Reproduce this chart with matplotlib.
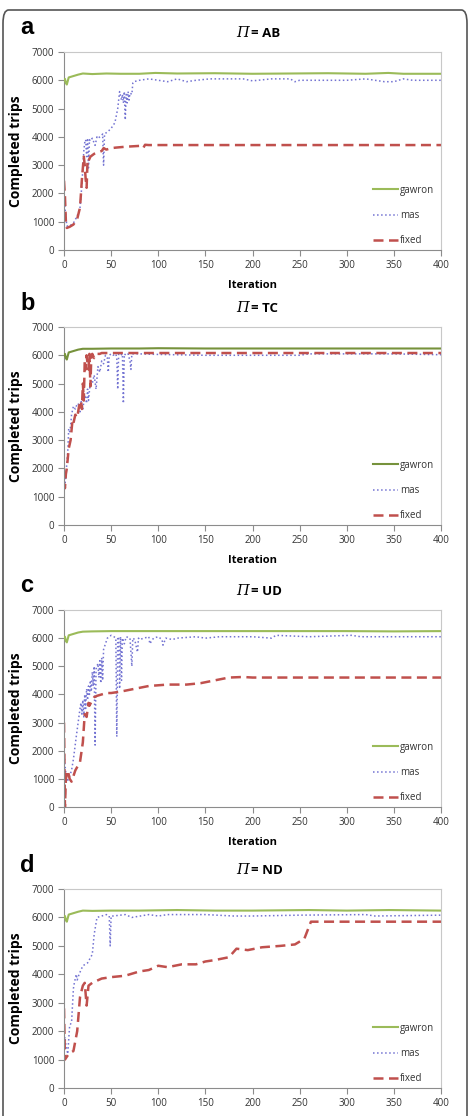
import matplotlib
matplotlib.use("Agg")
import matplotlib.pyplot as plt
from matplotlib.patches import FancyBboxPatch

# ---- data: (iteration, completed trips) ----
# panel a : PI = AB
ab_gawron_it = [0, 1, 2, 3, 5, 10, 15, 20, 30, 45, 60, 80, 97, 120, 160, 200, 240, 280, 320, 344, 360, 400]
ab_gawron_v = [6000, 6050, 5900, 5850, 6100, 6150, 6200, 6240, 6220, 6240, 6230, 6230, 6260, 6240, 6250, 6230, 6240, 6250, 6230, 6260, 6230, 6230]
ab_mas_it = [0, 1, 3, 6, 10, 14, 17, 19, 21, 22, 23, 24, 25, 26, 27, 28, 30, 33, 35, 36, 40, 41, 42, 43, 47, 50, 54, 57, 59,
             61, 62, 63, 64, 65, 66, 67, 68, 69, 70, 72, 73, 74, 80, 90, 100, 110, 120, 130, 140, 155, 190, 200, 220, 240, 245, 250,
             300, 320, 330, 340, 350, 360, 370, 400]
ab_mas_v = [2000, 1500, 850, 850, 950, 1200, 1500, 2300, 3500, 3800, 3900, 3300, 3950, 2900, 3900, 3850, 3950, 3700, 4000, 3950,
            4050, 4100, 3000, 4100, 4200, 4300, 4500, 5000, 5600, 5300, 5500, 5200, 5600, 4600, 5500, 5200, 5600, 5300, 5550, 5500,
            5900, 5950, 6000, 6050, 6000, 5950, 6050, 5950, 6000, 6050, 6050, 5980, 6050, 6050, 5950, 6000, 6000, 6050, 6000,
            5950, 5950, 6050, 6000, 6000]
ab_fixed_it = [0, 1, 2, 3, 6, 10, 14, 17, 19, 21, 22, 23, 24, 25, 26, 28, 32, 36, 40, 42, 45, 50, 55, 65, 80, 84, 86, 90, 120, 400]
ab_fixed_v = [2450, 1900, 1000, 780, 820, 900, 1100, 1500, 2500, 3300, 3000, 2500, 2200, 3200, 3150, 3300, 3400, 3450, 3500, 3600,
              3550, 3600, 3620, 3650, 3680, 3600, 3720, 3710, 3710, 3710]

# panel b : PI = TC
tc_gawron_it = [0, 1, 2, 3, 5, 10, 15, 20, 30, 50, 80, 100, 150, 200, 250, 300, 350, 400]
tc_gawron_v = [6000, 6050, 5900, 5850, 6100, 6150, 6200, 6230, 6230, 6240, 6240, 6250, 6240, 6240, 6240, 6240, 6240, 6240]
tc_mas_it = [0, 1, 2, 3, 4, 5, 6, 7, 8, 10, 12, 13, 15, 17, 18, 20, 22, 24, 25, 26, 28, 30, 32, 34, 36, 38, 40, 42, 44, 46, 47,
             48, 50, 52, 55, 56, 57, 58, 60, 62, 63, 64, 66, 68, 70, 71, 72, 80, 100, 150, 250, 260, 310, 350, 400]
tc_mas_v = [1800, 1500, 1700, 2200, 2600, 3400, 3300, 3500, 3900, 4200, 4100, 4200, 4300, 4000, 4400, 4100, 4600, 4300, 4800, 4400,
            5100, 5000, 5300, 4800, 5600, 5400, 5800, 5700, 6000, 5900, 5400, 6000, 6050, 6000, 6050, 5900, 4800, 6050, 6000, 6050,
            4300, 6050, 6000, 6050, 5800, 5500, 6050, 6050, 6030, 6000, 6000, 6050, 6050, 6050, 6020]
tc_fixed_it = [0, 1, 2, 3, 5, 7, 9, 10, 12, 14, 16, 18, 19, 20, 21, 22, 23, 24, 25, 26, 27, 28, 29, 30, 32, 35, 38, 40, 50, 100, 400]
tc_fixed_v = [1500, 1300, 1800, 2000, 2700, 3000, 3700, 3600, 3900, 3800, 4200, 4400, 4100, 5000, 4400, 5800, 5500, 6000, 5700, 5500,
              6050, 4900, 6000, 6050, 5900, 6050, 6050, 6080, 6080, 6080, 6080]

# panel c : PI = UD
ud_gawron_it = [0, 1, 2, 3, 5, 10, 15, 20, 30, 50, 80, 120, 160, 200, 250, 300, 350, 400]
ud_gawron_v = [6000, 6050, 5900, 5850, 6100, 6150, 6200, 6230, 6240, 6250, 6250, 6250, 6250, 6250, 6250, 6250, 6240, 6250]
ud_mas_it = [0, 1, 3, 5, 8, 10, 13, 15, 17, 18, 19, 20, 21, 22, 23, 24, 25, 26, 27, 28, 29, 30, 31, 32, 33, 34, 36, 37, 38, 39,
             40, 41, 42, 44, 46, 48, 50, 53, 55, 56, 57, 58, 59, 60, 61, 62, 64, 66, 70, 72, 73, 75, 78, 79, 80, 85, 90, 91, 95,
             100, 104, 105, 108, 115, 120, 140, 150, 165, 200, 220, 225, 260, 305, 315, 400]
ud_mas_v = [2000, 1500, 900, 1000, 1300, 1700, 2500, 3000, 3500, 3700, 3300, 3800, 3200, 4000, 3500, 4200, 3800, 4300, 4000, 4500,
            4100, 4800, 4300, 5000, 2200, 4900, 5100, 4600, 5200, 4400, 5300, 4500, 5600, 5800, 6000, 6050, 6100, 6050, 6000, 2500,
            6050, 6000, 4200, 6050, 4500, 6000, 5800, 6050, 6000, 5000, 6000, 5950, 5500, 6000, 5950, 6000, 6050, 5800, 6000,
            6050, 5950, 5750, 6000, 5950, 6000, 6050, 6000, 6050, 6050, 6000, 6100, 6050, 6100, 6050, 6050]
ud_fixed_it = [0, 1, 2, 4, 6, 8, 12, 17, 20, 22, 24, 26, 27, 30, 32, 35, 40, 45, 50, 60, 75, 90, 110, 130, 145, 160, 175, 190, 200, 400]
ud_fixed_v = [3000, 0, 1000, 1300, 1000, 900, 1300, 1600, 2300, 3300, 3200, 3700, 3600, 3800, 3900, 3950, 4000, 4050, 4050, 4100,
              4200, 4300, 4350, 4350, 4400, 4500, 4600, 4620, 4600, 4600]

# panel d : PI = ND
nd_gawron_it = [0, 1, 2, 3, 5, 10, 15, 20, 30, 50, 80, 120, 160, 200, 260, 300, 345, 400]
nd_gawron_v = [6000, 6050, 5900, 5850, 6100, 6150, 6200, 6240, 6230, 6240, 6240, 6260, 6240, 6240, 6260, 6240, 6260, 6240]
nd_mas_it = [0, 1, 2, 4, 6, 8, 10, 11, 13, 14, 16, 20, 25, 30, 32, 35, 40, 45, 48, 49, 50, 52, 65, 72, 90, 100, 110, 150, 180,
             200, 250, 320, 330, 400]
nd_mas_v = [1600, 1800, 1500, 1200, 2200, 2300, 3500, 3700, 4000, 3800, 4000, 4300, 4400, 4700, 5400, 6000, 6050, 6100, 6050, 5000,
            6050, 6050, 6100, 6000, 6100, 6050, 6100, 6100, 6050, 6050, 6080, 6100, 6050, 6080]
nd_fixed_it = [0, 1, 5, 10, 14, 17, 20, 22, 24, 26, 30, 40, 50, 65, 80, 90, 100, 110, 125, 140, 150, 160, 175, 183, 195, 210, 230,
               245, 255, 262, 400]
nd_fixed_v = [2800, 1000, 1200, 1300, 2000, 3200, 3600, 3700, 2900, 3600, 3700, 3850, 3900, 3950, 4100, 4150, 4300, 4250, 4350,
              4350, 4450, 4500, 4600, 4900, 4850, 4950, 5000, 5050, 5250, 5850, 5850]

panel_letters = ["a", "b", "c", "d"]
panel_names = ["AB", "TC", "UD", "ND"]
series_labels = ["gawron", "mas", "fixed"]

panels = [
    (ab_gawron_it, ab_gawron_v, ab_mas_it, ab_mas_v, ab_fixed_it, ab_fixed_v),
    (tc_gawron_it, tc_gawron_v, tc_mas_it, tc_mas_v, tc_fixed_it, tc_fixed_v),
    (ud_gawron_it, ud_gawron_v, ud_mas_it, ud_mas_v, ud_fixed_it, ud_fixed_v),
    (nd_gawron_it, nd_gawron_v, nd_mas_it, nd_mas_v, nd_fixed_it, nd_fixed_v),
]

W, H = 470, 1116
fig = plt.figure(figsize=(W / 100, H / 100), dpi=100)
plt.rcParams["font.family"] = ["Open Sans", "DejaVu Sans"]

# outer rounded frame (open at bottom, cropped)
frame = FancyBboxPatch((3 / W, -0.05), 464 / W, 1 - 10 / H + 0.05,
                       boxstyle="round,pad=0,rounding_size=0.012", transform=fig.transFigure,
                       fill=False, edgecolor="#555555", linewidth=1.2)
fig.patches.append(frame)

# axes boxes in pixels: (top, bottom)
boxes = [(52, 250), (327, 525), (610, 807), (889, 1088)]
left_px, right_px = 64, 441
gawron_colors = ["#9BBB59", "#76923C", "#9BBB59", "#9BBB59"]

for k, (top, bot) in enumerate(boxes):
    ax = fig.add_axes([left_px / W, 1 - bot / H, (right_px - left_px) / W, (bot - top) / H])
    g_it, g_v, m_it, m_v, f_it, f_v = panels[k]

    ax.plot(g_it, g_v, "-", color=gawron_colors[k], lw=1.5, label=series_labels[0], zorder=3)
    ax.plot(m_it, m_v, ":", color="#7373D2", lw=1.1, label=series_labels[1], zorder=2)
    ax.plot(f_it, f_v, "--", color="#C0504D", lw=1.8, dashes=(4, 2.2), label=series_labels[2], zorder=2)

    ax.set_xlim(0, 400)
    ax.set_ylim(0, 7000)
    ax.set_xticks(range(0, 401, 50))
    ax.set_yticks(range(0, 7001, 1000))
    ax.tick_params(labelsize=7, colors="#333333", length=4, width=0.8, direction="out", pad=3)
    for s in ["top", "right"]:
        ax.spines[s].set_color("#C8C8C8")
    for s in ["left", "bottom"]:
        ax.spines[s].set_color("#8C8C8C")
    ax.tick_params(color="#8C8C8C")

    ax.set_ylabel("Completed trips", fontsize=10, fontweight="bold", labelpad=6)
    ax.set_xlabel("Iteration", fontsize=8, fontweight="bold", labelpad=7)

    # title: italic PI then bold name
    ax.text(0.49, 1.095, "\u03a0", transform=ax.transAxes, ha="right", va="center",
            family="DejaVu Serif", style="italic", fontsize=10.5)
    ax.text(0.495, 1.095, "= " + panel_names[k], transform=ax.transAxes, ha="left", va="center",
            fontsize=9.5, fontweight="bold")

    fig.text(20 / W, 1 - (top - 24) / H, panel_letters[k], fontsize=17, fontweight="bold",
             ha="left", va="center", family=["Liberation Sans", "DejaVu Sans"])

    leg = ax.legend(loc="lower left", bbox_to_anchor=(0.82, 0.02), frameon=False, fontsize=7,
                    labelspacing=1.45, handlelength=2.6, handletextpad=0.15, borderpad=0, borderaxespad=0)
    for t in leg.get_texts():
        t.set_color("#333333")

fig.savefig("out.png", dpi=100)
